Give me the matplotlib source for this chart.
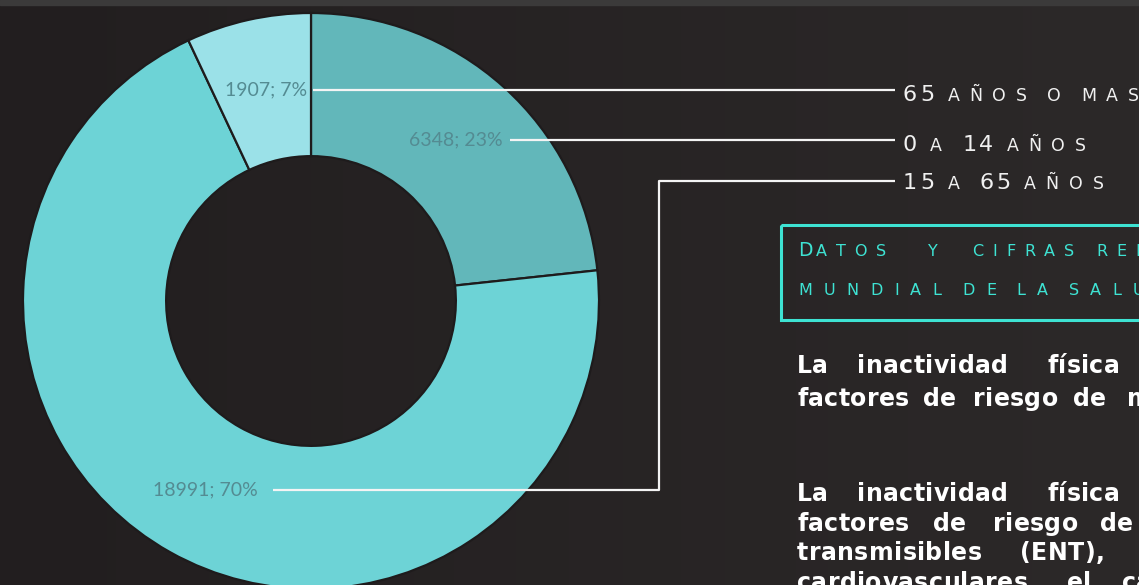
import numpy as np
import matplotlib.pyplot as plt
from matplotlib.colors import LinearSegmentedColormap
from matplotlib.patches import Rectangle

# population by age group (order as drawn, clockwise from 12 o'clock)
groups = ["0 a 14 años", "15 a 65 años", "65 años o mas"]
counts = [6348, 18991, 1907]
slice_colors = ["#62b7ba", "#6dd3d6", "#9be1e8"]

W, H = 1139, 585
fig = plt.figure(figsize=(W / 100, H / 100), dpi=100)
ax = fig.add_axes([0, 0, 1, 1])

# dark slide background with a faint left-to-right gradient
bg = LinearSegmentedColormap.from_list("bg", ["#221e1f", "#2c2929"])
ax.imshow(np.linspace(0, 1, 256)[None, :], cmap=bg, extent=[0, W, H, 0],
          aspect="auto", zorder=0)
ax.add_patch(Rectangle((0, 0), W, 5, color="#3b3a3a", zorder=1))

# donut (y axis points down, so counterclock=True turns clockwise on screen)
cx, cy, R = 311, 301, 288
ax.pie(counts, colors=slice_colors, radius=R, center=(cx, cy),
       startangle=-90, counterclock=True,
       wedgeprops=dict(width=R * 0.497, edgecolor="#1e1b1c", linewidth=1.6))
ax.set_xlim(0, W)
ax.set_ylim(H, 0)
ax.set_aspect("auto")
ax.axis("off")

total = sum(counts)
lbl = [f"{c}; {round(100 * c / total)}%" for c in counts]
lbl_color = "#548b92"
line_kw = dict(color="#f4f4f4", lw=1.6, solid_capstyle="butt", zorder=5)

# data labels + leader lines to the group names
ax.text(503, 140, lbl[0], ha="right", va="center", fontsize=14,
        color=lbl_color, family="Lato", zorder=6)
ax.plot([510, 895], [140, 140], **line_kw)

ax.text(307, 90, lbl[2], ha="right", va="center", fontsize=14,
        color=lbl_color, family="Lato", zorder=6)
ax.plot([313, 895], [90, 90], **line_kw)

ax.text(258, 490, lbl[1], ha="right", va="center", fontsize=14,
        color=lbl_color, family="Lato", zorder=6)
ax.plot([273, 659, 659, 895], [490, 490, 181, 181], **line_kw)

rend = fig.canvas.get_renderer()


def right_edge(t):
    bb = t.get_window_extent(renderer=rend)
    return ax.transData.inverted().transform((bb.x1, bb.y1))[0]


def caps_line(x, y, text, big, small, tb, ts, space, color):
    # fake small caps: capitals/digits large, lowercase as small capitals
    for ch in text:
        if ch == " ":
            x += space
            continue
        low = ch.islower()
        t = ax.text(x, y, ch.upper(), fontsize=small if low else big,
                    color=color, ha="left", va="baseline",
                    family="DejaVu Sans", zorder=6)
        x = right_edge(t) + (ts if low else tb)
    return x


def tracked(x, y, word, track, **kw):
    for ch in word:
        t = ax.text(x, y, ch, ha="left", va="baseline", zorder=6, **kw)
        x = right_edge(t) + track
    return x


def body_line(y, words, starts, gap=13):
    x = starts[0]
    for i, w in enumerate(words):
        if i < len(starts):
            x = starts[i]
        x = tracked(x, y, w, 0.4, **body) - 0.4 + gap


# group names at the end of the leader lines
label_y = {"65 años o mas": 101, "0 a 14 años": 151, "15 a 65 años": 189}
for g in ["65 años o mas", "0 a 14 años", "15 a 65 años"]:
    caps_line(903, label_y[g], g, 16, 12.5, 3, 10, 10, "#f0f0f0")

# boxed heading
cyan = "#3ee3d3"
ax.add_patch(Rectangle((781, 225), 500, 95, fill=False, edgecolor=cyan,
                       lw=2.2, zorder=6))
for word, x0 in [("Datos", 798), ("y", 928), ("cifras", 972),
                 ("reportadas", 1096)]:
    caps_line(x0, 256, word, 13.5, 11.5, 3, 9, 0, cyan)
caps_line(798, 295, "mundial de la salud", 13.5, 11.5, 3, 11.5, 9, cyan)

# body text
body = dict(fontsize=17, color="white", fontweight="bold", family="DejaVu Sans")
body_line(373, ["La", "inactividad", "física", "es", "uno"], [797, 857, 1047],
          gap=28)
body_line(406, ["factores", "de", "riesgo", "de", "mortalidad"],
          [797, 923, 973, 1073, 1127])
body_line(501, ["La", "inactividad", "física", "es", "uno"], [797, 857, 1047],
          gap=28)
body_line(531, ["factores", "de", "riesgo", "de", "enfermedades"],
          [797, 933, 993, 1100], gap=28)
body_line(560, ["transmisibles", "(ENT),", "como", "las"], [797, 1020], gap=45)
body_line(590, ["cardiovasculares,", "el", "cáncer"], [797], gap=30)

fig.savefig("out.png", dpi=100, facecolor="#252122")
